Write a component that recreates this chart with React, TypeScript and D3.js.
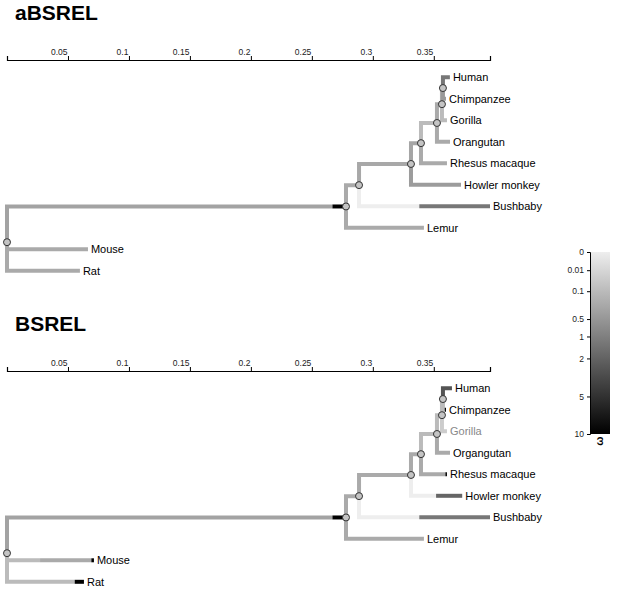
import React, { useEffect, useRef } from "react";
import * as d3 from "d3";

// ---- tree topology ----
const branchIds = ["root", "P", "A", "B", "C", "D", "E", "F", "Human", "Chimpanzee", "Gorilla", "Orangutan", "Rhesus macaque", "Howler monkey", "Bushbaby", "Lemur", "Mouse", "Rat"];
const branchParents = [null, "root", "P", "A", "B", "C", "D", "E", "F", "F", "E", "D", "C", "B", "A", "P", "root", "root"];

// ---- branch lengths per model (aligned with branchIds) ----
const absrelLengths = [0, 0.278, 0.0107, 0.0426, 0.0082, 0.0131, 0.0041, 0.0008, 0.0057, 0.0025, 0.0041, 0.0107, 0.0213, 0.041, 0.1074, 0.0639, 0.0664, 0.0598];
const bsrelLengths = [0, 0.278, 0.0107, 0.0426, 0.0082, 0.0131, 0.0041, 0.0008, 0.0074, 0.0025, 0.0041, 0.0107, 0.0213, 0.042, 0.1074, 0.0639, 0.0713, 0.0631];

// ---- rate-class segments per branch: [omega, proportion] ----
const absrelSegments: [number, number][][] = [
  [], [[0.31, 0.96], [10, 0.04]], [[0.23, 1]], [[0.25, 1]], [[0.29, 1]], [[0.1, 1]], [[0.23, 1]], [[0.23, 1]],
  [[1.25, 1]], [[0.45, 1]], [[0.1, 1]], [[0.23, 1]], [[0.23, 1]], [[0.41, 1]], [[0, 0.46], [1.25, 0.54]],
  [[0.23, 1]], [[0.23, 1]], [[0.23, 1]],
];
const bsrelSegments: [number, number][][] = [
  [], [[0.31, 0.96], [10, 0.04]], [[0.23, 1]], [[0.23, 1]], [[0.23, 1]], [[0.1, 1]], [[0.1, 1]], [[0.1, 1]],
  [[2.7, 1]], [[0.1, 0.6], [10, 0.4]], [[0.03, 1]], [[0.23, 1]], [[0.23, 0.94], [10, 0.06]], [[0, 0.49], [1.9, 0.51]], [[0, 0.46], [1.25, 0.54]],
  [[0.23, 1]], [[0.1, 0.38], [0.23, 0.59], [10, 0.03]], [[0.1, 0.88], [10, 0.12]],
];

// ---- taxon labels (leaf order) ----
const absrelTaxonLabels = ["Human", "Chimpanzee", "Gorilla", "Orangutan", "Rhesus macaque", "Howler monkey", "Bushbaby", "Lemur", "Mouse", "Rat"];
const bsrelTaxonLabels = ["Human", "Chimpanzee", "Gorilla", "Organgutan", "Rhesus macaque", "Howler monkey", "Bushbaby", "Lemur", "Mouse", "Rat"];
const bsrelDimmedTaxa = ["Gorilla"];

// ---- axis / legend ticks ----
const branchTicks = [0.05, 0.1, 0.15, 0.2, 0.25, 0.3, 0.35];
const omegaTicks = [0, 0.01, 0.1, 0.5, 1, 2, 5, 10];
const omegaDomain = [0, 10];

const FONT = "'Liberation Sans', Arial, Helvetica, sans-serif";

const omegaPos = d3.scalePow().exponent(1 / 3).domain(omegaDomain).range([0, 1]).clamp(true);
const grayInterp = d3.interpolateRgb("#eeeeee", "#000000");
const omegaColor = (w: number) => grayInterp(omegaPos(w));

function layoutTree(lengths: number[], axisY: number) {
  const rows = branchIds.map((id, i) => ({ id, parent: branchParents[i], length: lengths[i] }));
  const root: any = d3.stratify<any>().id((d) => d.id).parentId((d) => d.parent)(rows);
  root.eachBefore((n: any) => {
    n.dist = n.parent ? n.parent.dist + n.data.length : 0;
  });
  const leaves = root.leaves();
  const top = axisY + 17.3;
  const spacing = 21.5;
  leaves.forEach((l: any, i: number) => {
    l.yy = top + i * spacing;
  });
  root.eachAfter((n: any) => {
    if (n.children) n.yy = d3.mean(n.children, (c: any) => c.yy);
  });
  const maxDist = d3.max(leaves, (l: any) => l.dist) as number;
  const x = d3.scaleLinear().domain([0, maxDist]).range([7, 490]);
  return { root, leaves, x };
}

function Axis({ x, y }: { x: d3.ScaleLinear<number, number>; y: number }) {
  const ref = useRef<SVGGElement>(null);
  useEffect(() => {
    const g = d3.select(ref.current!);
    g.selectAll("*").remove();
    g.call(d3.axisTop(x).tickValues(branchTicks).tickSize(4).tickPadding(1).tickFormat((d: any) => String(d)));
    g.select(".domain").attr("stroke", "#000").attr("stroke-width", 1.2);
    g.selectAll(".tick line").attr("stroke", "#000");
    g.selectAll(".tick text").attr("text-anchor", "end").attr("dx", -1).attr("font-size", 8.5).attr("font-family", FONT).attr("fill", "#222");
  }, [x]);
  return <g ref={ref} transform={`translate(0,${y})`} />;
}

function Tree({ title, titleY, axisY, lengths, segments, labels, dimmed }: any) {
  const { root, leaves, x } = layoutTree(lengths, axisY);
  const nodes = root.descendants();
  const branches: JSX.Element[] = [];
  nodes.forEach((n: any) => {
    if (!n.parent) return;
    const idx = branchIds.indexOf(n.id);
    const segs: [number, number][] = segments[idx];
    const px = x(n.parent.dist);
    const py = n.parent.yy;
    const cx = x(n.dist);
    const cy = n.yy;
    let acc = 0;
    segs.forEach(([w, f], k) => {
      const x0 = px + acc * (cx - px);
      acc += f;
      const x1 = px + acc * (cx - px);
      const d = k === 0 ? `M${px},${py}V${cy}H${x1}` : `M${x0},${cy}H${x1}`;
      branches.push(
        <path key={`${n.id}-${k}`} d={d} fill="none" stroke={omegaColor(w)} strokeWidth={4} strokeLinejoin="miter" />
      );
    });
  });
  const internals = nodes.filter((n: any) => n.children);
  return (
    <g>
      <text x={15} y={titleY} fontFamily={FONT} fontWeight="bold" fontSize={21} fill="#000">{title}</text>
      <Axis x={x} y={axisY} />
      {branches}
      {internals.map((n: any) => (
        <circle key={n.id} cx={x(n.dist)} cy={n.yy} r={3.5} fill="#c4c4c4" stroke="#333" strokeWidth={1} />
      ))}
      {leaves.map((l: any, i: number) => (
        <text key={l.id} x={x(l.dist) + 3} y={l.yy} dy="0.35em" fontFamily={FONT} fontSize={11}
          fill={dimmed.includes(labels[i]) ? "#888" : "#000"}>{labels[i]}</text>
      ))}
    </g>
  );
}

function Legend() {
  const ref = useRef<SVGGElement>(null);
  const y0 = 252, y1 = 434, bx = 590, bw = 20;
  const scale = d3.scalePow().exponent(1 / 3).domain(omegaDomain).range([y0, y1]);
  useEffect(() => {
    const g = d3.select(ref.current!);
    g.selectAll("*").remove();
    g.call(d3.axisLeft(scale).tickValues(omegaTicks).tickSize(3).tickPadding(3).tickFormat((d: any) => String(d)));
    g.select(".domain").attr("stroke", "#000");
    g.selectAll(".tick text").attr("font-size", 8.5).attr("font-family", FONT).attr("fill", "#222");
  }, []);
  return (
    <g>
      <defs>
        <linearGradient id="omegaGrad" x1="0" y1="0" x2="0" y2="1">
          {d3.range(0, 1.0001, 0.1).map((t) => (
            <stop key={t} offset={t} stopColor={grayInterp(t)} />
          ))}
        </linearGradient>
      </defs>
      <rect x={bx} y={y0} width={bw} height={y1 - y0} fill="url(#omegaGrad)" />
      <g ref={ref} transform={`translate(${bx},0)`} />
      <text x={0} y={0} transform={`translate(599,441) rotate(-90)`} fontFamily={FONT} fontWeight="bold" fontSize={11} textAnchor="middle" dy="0.35em">ω</text>
    </g>
  );
}

export default function App() {
  return (
    <svg width={633} height={598} style={{ position: "absolute", left: 0, top: 0, background: "#fff" }}>
      <rect width={633} height={598} fill="#fff" />
      <Tree title="aBSREL" titleY={20} axisY={60} lengths={absrelLengths} segments={absrelSegments} labels={absrelTaxonLabels} dimmed={[]} />
      <Tree title="BSREL" titleY={331} axisY={371} lengths={bsrelLengths} segments={bsrelSegments} labels={bsrelTaxonLabels} dimmed={bsrelDimmedTaxa} />
      <Legend />
    </svg>
  );
}
